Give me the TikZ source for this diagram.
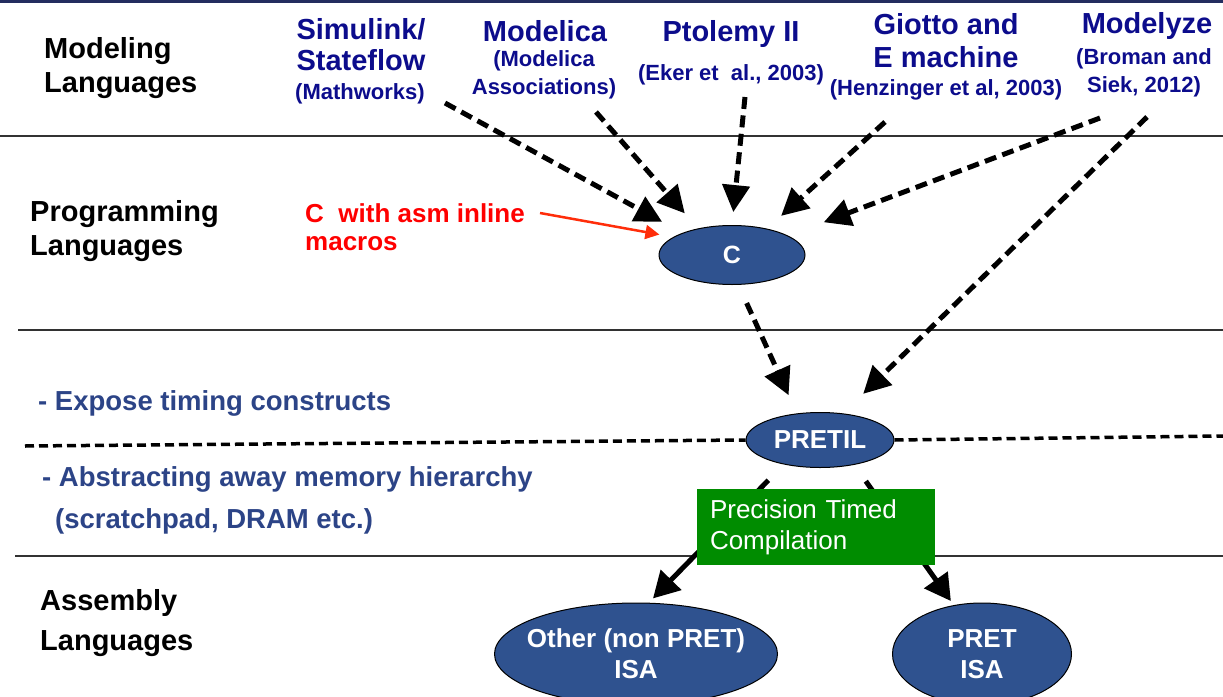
\documentclass[tikz,border=0pt]{standalone}
\usepackage{fontspec}
\setmainfont{Liberation Sans}
\usetikzlibrary{shapes.geometric,arrows.meta}
\definecolor{navyhead}{RGB}{12,12,140}
\definecolor{bluenote}{RGB}{44,68,135}
\definecolor{isafill}{RGB}{47,82,143}
\definecolor{ptcgreen}{RGB}{0,140,0}
\definecolor{asmred}{RGB}{255,0,0}
\definecolor{asmarrowred}{RGB}{255,45,10}
\definecolor{topbar}{RGB}{35,45,95}
\definecolor{rulegray}{RGB}{50,50,50}
\tikzstyle{lang}=[font=\bfseries\fontsize{29}{34}\selectfont, align=left, anchor=west, inner sep=0]
\tikzstyle{title}=[text=navyhead, font=\bfseries\fontsize{29}{31}\selectfont, align=center, inner sep=0]
\tikzstyle{cite}=[text=navyhead, font=\bfseries\fontsize{22}{28}\selectfont, align=center, inner sep=0]
\tikzstyle{note}=[text=bluenote, font=\bfseries\fontsize{27.5}{42}\selectfont, align=left, anchor=west, inner sep=0]
\tikzstyle{isa}=[ellipse, draw=black, line width=1pt, fill=isafill, text=white, inner sep=0, align=center, font=\bfseries\fontsize{26}{31}\selectfont]
\tikzstyle{ptc}=[rectangle, fill=ptcgreen, text=white, minimum width=238pt, minimum height=76pt, inner xsep=13pt, text width=212pt, align=left, font=\fontsize{26}{31}\selectfont]
\tikzset{feed/.style={-{Triangle[length=27pt,width=27pt]}, line width=5pt, dash pattern=on 12pt off 6.5pt}}
\tikzset{compile/.style={-{Triangle[length=26pt,width=28pt]}, line width=5pt}}
\tikzset{asmarrow/.style={-{Triangle[length=14pt,width=14pt]}, line width=2.5pt, color=asmarrowred}}
\tikzset{sep/.style={line width=3.5pt, dash pattern=on 9pt off 5pt}}
\tikzset{layer/.style={line width=1.5pt, color=rulegray}}

\begin{document}
\begin{tikzpicture}[x=1pt,y=-1pt]
  \useasboundingbox (0,0) rectangle (1223,696);
  \clip (0,0) rectangle (1223,696);

  %% Layers
  \fill[topbar] (0,0) rectangle (1223,3);
  \draw[layer] (0,136) -- (1223,136);
  \draw[layer] (18,330) -- (1223,330);
  \draw[layer] (15,556) -- (1223,556);

  \draw (44,68) node[lang] (model) {Modeling\\Languages};
  \draw (30,231) node[lang] (prog) {Programming\\Languages};
  \draw (40,623) node[lang, font=\bfseries\fontsize{29}{40}\selectfont] (asmb) {Assembly\\Languages};

  %% Modeling languages
  \draw (361,45) node[title] (simT) {Simulink/\\Stateflow};
  \draw (360,94) node[cite] (simC) {(Mathworks)};
  \draw (545,31) node[title] (modT) {Modelica};
  \draw (544,75) node[cite] (modC) {(Modelica\\Associations)};
  \draw (731,34) node[title] (ptoT) {Ptolemy II};
  \draw (731,75) node[cite] (ptoC) {(Eker et\ \ al., 2003)};
  \draw (946,41) node[title, font=\bfseries\fontsize{29}{33}\selectfont] (gioT) {Giotto and\\E machine};
  \draw (946,90) node[cite] (gioC) {(Henzinger et al, 2003)};
  \draw (1147,26) node[title] (mzyT) {Modelyze};
  \draw (1144,73) node[cite] (mzyC) {(Broman and\\Siek, 2012)};

  %% Notes
  \draw (305,227) node[note, text=asmred, font=\bfseries\fontsize{26}{28}\selectfont] (asm) {C\ \ with asm inline\\macros};
  \draw (38,403) node[note] (expose) {- Expose timing constructs};
  \draw (42,500) node[note] (abstr) {- Abstracting away memory hierarchy\\\hspace*{13pt}(scratchpad, DRAM etc.)};

  %% Languages
  \draw (732,255) node[isa, minimum width=146pt, minimum height=59pt, font=\bfseries\fontsize{25}{25}\selectfont] (C) {C};
  \draw (820,440) node[isa, minimum width=148pt, minimum height=55pt] (pretil) {PRETIL};
  \draw (636,654) node[isa, minimum width=283pt, minimum height=102pt,
    label={[align=center, text=white, font=\bfseries\fontsize{26}{31}\selectfont]center:Other (non PRET)\\ISA}] (other) {};
  \draw (982,654) node[isa, minimum width=179pt, minimum height=102pt] (pret) {PRET\\ISA};

  %% Separator
  \coordinate (sepL) at (25,446);
  \coordinate (sepR) at (1223,436);
  \draw[sep] (sepL) -- (pretil.west);
  \draw[sep] (pretil.east) -- (sepR);

  %% Arrows
  \coordinate (simA) at (445,103);
  \coordinate (modA) at (596,112);
  \coordinate (ptoA) at (745,97);
  \coordinate (gioA) at (885,122);
  \coordinate (mzyA) at (1100,118);
  \coordinate (mzyB) at (1147,117);
  \coordinate (asmA) at (540,213);

  \draw[feed, shorten >=23pt] (simA) -- (C.156);
  \draw[feed, shorten >=20pt] (modA) -- (C.142);
  \draw[feed, shorten >=13pt] (ptoA) -- (C.90);
  \draw[feed, shorten >=19pt] (gioA) -- (C.37);
  \draw[feed, shorten >=38pt] (mzyA) -- (C.19);
  \draw[feed, shorten >=28pt] (mzyB) -- (pretil.49);
  \draw[feed, shorten <=20pt, shorten >=20pt] (C.282) -- (pretil.131);
  \draw[asmarrow, shorten >=14pt] (asmA) -- (C.163);

  \draw[compile, shorten <=22pt, shorten >=6pt] (pretil.214) -- (other.76);
  \draw[compile, shorten <=20pt, shorten >=5pt] (pretil.-36) -- (pret.120);

  \draw (816,527) node[ptc] (ptc) {Precision Timed\\Compilation};
\end{tikzpicture}
\end{document}
